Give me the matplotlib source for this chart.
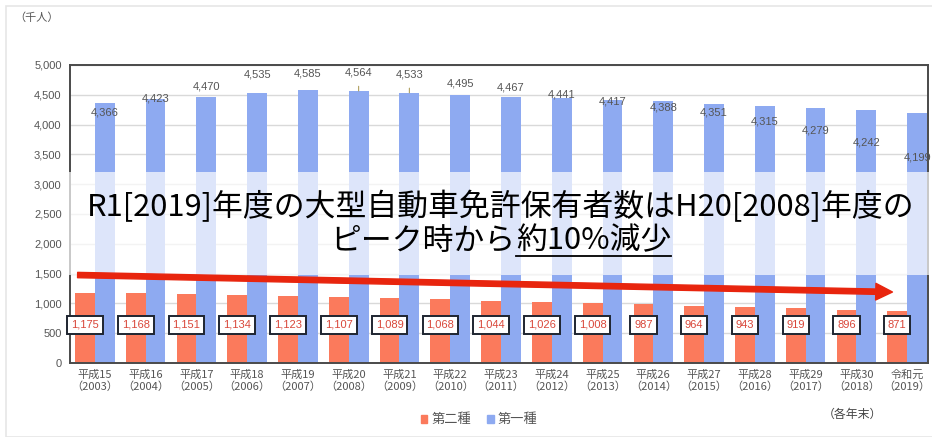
import matplotlib
matplotlib.use("Agg")
import matplotlib.pyplot as plt
import numpy as np
from matplotlib.patches import Rectangle
from matplotlib.lines import Line2D

plt.rcParams['font.family'] = ['Liberation Sans', 'Noto Sans CJK JP', 'DejaVu Sans']

# ---------------- data ----------------
eras = ['平成15', '平成16', '平成17', '平成18', '平成19', '平成20', '平成21', '平成22', '平成23',
        '平成24', '平成25', '平成26', '平成27', '平成28', '平成29', '平成30', '令和元']
years = [2003, 2004, 2005, 2006, 2007, 2008, 2009, 2010, 2011, 2012, 2013, 2014, 2015, 2016,
         2017, 2018, 2019]
type2 = [1175, 1168, 1151, 1134, 1123, 1107, 1089, 1068, 1044, 1026, 1008, 987, 964, 943, 919, 896, 871]
type1 = [4366, 4423, 4470, 4535, 4585, 4564, 4533, 4495, 4467, 4441, 4417, 4388, 4351, 4315, 4279, 4242, 4199]
series_names = ['第二種', '第一種']
yticks = [0, 500, 1000, 1500, 2000, 2500, 3000, 3500, 4000, 4500, 5000]

# ---------------- layout / style ----------------
label_dy_px = [10, -1, -10, -18, -16, -18, -18, -12, -9, -4, 2, 6, 9, 16, 23, 32, 45]
RED = '#fb7a5c'
BLUE = '#8eaaf1'
GRAY = '#555555'
W = 0.39
BOX_Y = 640

fig = plt.figure(figsize=(9.32, 4.37), dpi=100)
ax = fig.add_axes([0.0751, 0.1693, 0.9206, 0.682])

x = np.arange(len(eras))
ax.bar(x - W / 2, type2, width=W, color=RED, zorder=2, label=series_names[0])
ax.bar(x + W / 2, type1, width=W, color=BLUE, zorder=2, label=series_names[1])

ax.set_xlim(-0.49, 16.41)
ax.set_ylim(0, 5000)
ax.set_yticks(yticks)
ax.set_yticklabels([f'{v:,}' for v in yticks], fontsize=8, color=GRAY)
ax.set_xticks(x)
ax.set_xticklabels([f'{e}\n（{y}）' for e, y in zip(eras, years)], fontsize=8, color=GRAY,
                   family=['Noto Sans CJK JP'], linespacing=1.2)
ax.tick_params(axis='x', length=0, pad=5)
ax.tick_params(axis='y', length=0, pad=6)
ax.yaxis.grid(True, color='#d9d9d9', lw=1, zorder=0)
ax.set_axisbelow(True)
for s in ax.spines.values():
    s.set_color('#4a4a4a')
    s.set_linewidth(1.4)

# value labels for type1
for xi, v, dy in zip(x, type1, label_dy_px):
    kw = {}
    if xi in (5, 6):
        kw = dict(arrowprops=dict(arrowstyle='-', color='#b0a060', lw=0.8, shrinkA=4, shrinkB=0))
    ax.annotate(f'{v:,}', xy=(xi + W / 2, v), xytext=(0, -dy * 0.72), textcoords='offset points',
                ha='center', va='center', fontsize=8, color=GRAY, zorder=5, **kw)

# boxed labels for type2
for xi, v in zip(x, type2):
    ax.text(xi - W / 2, BOX_Y, f'{v:,}', ha='center', va='center', fontsize=8, color='#d9473a',
            zorder=6, bbox=dict(boxstyle='square,pad=0.35', fc='white', ec='#1e2530', lw=1.4))

# translucent band
band = Rectangle((-0.004, 1480), 1.008, 3200 - 1480,
                 transform=ax.get_yaxis_transform(), facecolor='white', alpha=0.7,
                 edgecolor='none', zorder=3.5, clip_on=False)
ax.add_patch(band)

# arrow
ax.annotate('', xy=(15.71, 1191), xytext=(-0.34, 1476),
            arrowprops=dict(arrowstyle='simple,head_length=1.0,head_width=1.0,tail_width=0.32',
                            color='#e8250e', mutation_scale=12, shrinkA=0, shrinkB=0), zorder=7)

# overlay text
JP = ['Noto Sans CJK JP', 'DejaVu Sans']
FS = 22.2
fig.text(0.5376, 0.526, 'R1[2019]年度の大型自動車免許保有者数はH20[2008]年度の', ha='center',
         va='center', fontsize=FS, family=JP, color='black', zorder=10)
part1 = 'ピーク時から'
part2 = '約10%減少'
renderer = fig.canvas.get_renderer()
t_full = fig.text(0, 0, part1 + part2, fontsize=FS, family=JP)
t_a = fig.text(0, 0, part1, fontsize=FS, family=JP)
wf = t_full.get_window_extent(renderer).width
wa = t_a.get_window_extent(renderer).width
t_full.remove(); t_a.remove()
cx = 0.5376 * 932
left = cx - wf / 2
split = left + wa
y2 = 0.4485
fig.text(split / 932, y2, part1, ha='right', va='center', fontsize=FS, family=JP, zorder=10)
t2 = fig.text(split / 932, y2, part2, ha='left', va='center', fontsize=FS, family=JP, zorder=10)
bb = t2.get_window_extent(renderer)
uy = (437 - 256) / 437
fig.add_artist(Line2D([split / 932, bb.x1 / 932], [uy, uy], color='black', lw=1.3,
                      transform=fig.transFigure))

# legend
handles = [Rectangle((0, 0), 1, 1, color=RED), Rectangle((0, 0), 1, 1, color=BLUE)]
fig.legend(handles, series_names, loc='center', bbox_to_anchor=(479 / 932, 1 - 420 / 437), ncol=2,
           frameon=False, prop={'family': JP, 'size': 9.5}, handlelength=0.5,
           handleheight=0.5, handletextpad=0.3, columnspacing=1.2, labelcolor=GRAY)

fig.text(852 / 932, 1 - 414 / 437, '（各年末）', ha='center', va='center', fontsize=8.6,
         family=JP, color='#444444')
fig.text(37 / 932, 1 - 18 / 437, '（千人）', ha='center', va='center', fontsize=8, family=JP,
         color=GRAY)

# outer frame
fig.add_artist(Rectangle((6 / 932, 0), 1, 1 - 6 / 437, transform=fig.transFigure, fill=False,
                         edgecolor='#e6e6e6', lw=1.2))

fig.savefig('out.png', dpi=100)
